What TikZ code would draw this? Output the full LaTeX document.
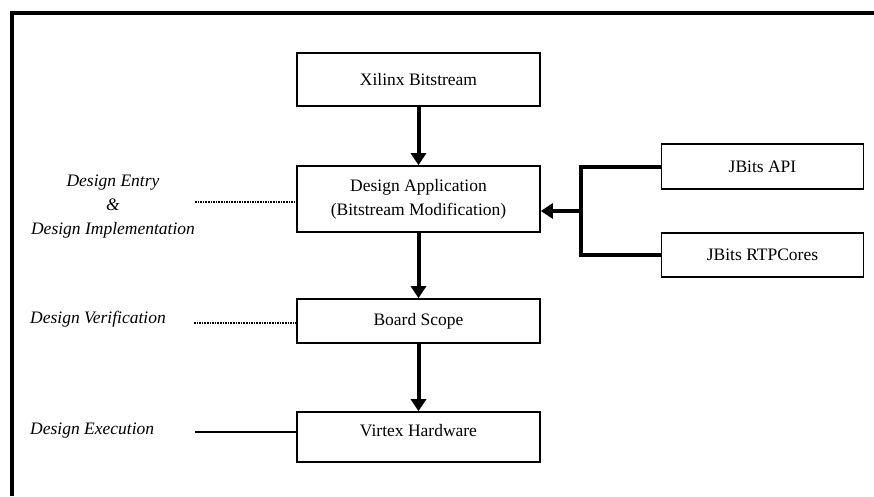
\documentclass[tikz,border=0pt]{standalone}
\usepackage{fontspec}
\setmainfont{Liberation Serif}
\usetikzlibrary{arrows.meta}
\begin{document}
\begin{tikzpicture}[x=1pt,y=-1pt,
  box/.style={draw, line width=1.6pt, inner sep=0pt, align=center,
    font=\fontsize{17.5}{24}\selectfont},
  wide/.style={box, minimum width=243pt},
  side/.style={box, minimum width=202pt},
  lbl/.style={inner sep=0pt, align=center, font=\fontsize{17.5}{24}\selectfont\itshape},
  flow/.style={line width=4pt, -{Triangle[width=15pt,length=12pt]}},
  bus/.style={line width=4pt},
  dotline/.style={line width=1.6pt, densely dotted},
  solidline/.style={line width=2.5pt}]
\useasboundingbox (0,0) rectangle (874,496);
\fill[white] (0,0) rectangle (874,496);
\draw[line width=3.5pt] (12,496) -- (12,13) -- (874,13);

\node[wide, minimum height=53pt] (xil) at (418.5,79.5) {Xilinx Bitstream};
\node[wide, minimum height=66pt] (app) at (418.5,199) {Design Application\\(Bitstream Modification)};
\node[wide, minimum height=44pt] (bs) at (418.5,321) {Board Scope};
\node[wide, minimum height=50pt, text depth=14pt] (vx) at (418.5,437) {Virtex Hardware};
\node[side, minimum height=45pt] (api) at (762.5,166.5) {JBits API};
\node[side, minimum height=44pt] (rtp) at (762.5,255) {JBits RTPCores};

\draw[flow] (xil) -- (app);
\draw[flow] (app) -- (bs);
\draw[flow] (bs) -- (vx);

\coordinate (bx) at (581,211);
\draw[bus] (api.west) -| (bx) |- (rtp.west);
\draw[flow] (bx) -- (app.east |- bx);

\node[lbl] (entry) at (113,207) {Design Entry\\\&\\Design Implementation};
\node[lbl, anchor=west] (ver) at (30,319) {Design Verification};
\node[lbl, anchor=west] (exe) at (30,431) {Design Execution};

\coordinate (e1) at (195,202);
\coordinate (e2) at (194,323);
\coordinate (e3) at (195,432);
\draw[dotline] (e1) -- (app.west |- e1);
\draw[dotline] (e2) -- (bs.west |- e2);
\draw[solidline] (e3) -- (vx.west |- e3);
\end{tikzpicture}
\end{document}
